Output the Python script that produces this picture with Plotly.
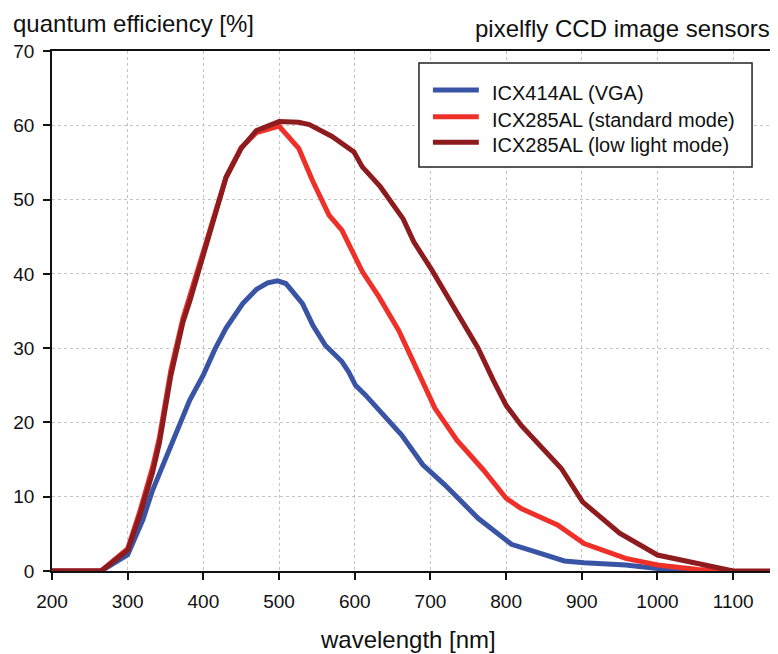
import plotly.graph_objects as go

# ---- data ----
icx414_nm = [200, 250, 265, 300, 320, 333, 351, 365, 382, 400, 415, 430, 452, 470, 485, 498, 509,
             531, 545, 561, 575, 583, 592, 601, 614, 636, 662, 690, 719, 763, 807, 838, 877, 903,
             958, 1000, 1050]
icx414_qe = [0, 0, 0, 2.2, 6.9, 10.9, 15.4, 18.8, 23.0, 26.4, 29.8, 32.7, 36.0, 37.9, 38.8, 39.05, 38.7,
             36.0, 33.0, 30.4, 29.0, 28.2, 26.8, 25.0, 23.7, 21.2, 18.3, 14.3, 11.6, 7.1, 3.6, 2.6, 1.35, 1.1,
             0.8, 0.35, 0]

icx285_std_nm = [200, 265, 300, 316, 333, 342, 357, 373, 382, 408, 430, 450, 470, 500, 526, 544, 566,
                 583, 610, 632, 658, 669, 688, 706, 735, 770, 800, 820, 868, 903, 958, 1000, 1053, 1100]
icx285_std_qe = [0, 0, 3.0, 8.0, 14.0, 18.0, 27.0, 34.0, 37.0, 45.5, 53.0, 57.0, 59.0, 59.9, 56.9, 52.6, 47.9,
                 45.9, 40.3, 36.9, 32.4, 30.0, 25.7, 21.9, 17.6, 13.6, 9.8, 8.4, 6.2, 3.7, 1.7, 0.8, 0.2, 0]

icx285_ll_nm = [200, 265, 300, 316, 333, 342, 357, 373, 382, 408, 430, 450, 470, 500, 526, 540, 570,
                599, 610, 634, 664, 678, 702, 728, 763, 783, 800, 820, 855, 873, 901, 950, 1000, 1053,
                1100, 1150]
icx285_ll_qe = [0, 0, 2.8, 7.5, 13.3, 17.3, 26.3, 33.5, 36.3, 45.5, 53.0, 56.9, 59.3, 60.5, 60.4, 60.1, 58.5,
                56.4, 54.4, 51.7, 47.4, 44.3, 40.5, 36.0, 30.0, 25.7, 22.3, 19.6, 15.8, 13.8, 9.3, 5.1, 2.15, 1.0,
                0, 0]

series_names = ["ICX414AL (VGA)", "ICX285AL (standard mode)", "ICX285AL (low light mode)"]
series_colors = ["#3a54a5", "#ee3029", "#8e1b1e"]

x_ticks = [200, 300, 400, 500, 600, 700, 800, 900, 1000, 1100]
y_ticks = [0, 10, 20, 30, 40, 50, 60, 70]

FONT = "Liberation Sans, Arial, Helvetica, sans-serif"
OFF = 8                      # page body margin offset
W, H = 778 - OFF, 654 - OFF
L, R, T, B = 52 - OFF, 5, 51 - OFF, 83
PW, PH = W - L - R, H - T - B


def px(xp):                  # page pixel x -> paper
    return (xp - OFF - L) / PW


def py(yp):                  # page pixel y -> paper
    return (H - B - (yp - OFF)) / PH


fig = go.Figure()
for xs, ys, name, col in zip([icx414_nm, icx285_std_nm, icx285_ll_nm],
                             [icx414_qe, icx285_std_qe, icx285_ll_qe],
                             series_names, series_colors):
    fig.add_trace(go.Scatter(x=xs, y=ys, mode="lines", name=name,
                             line=dict(color=col, width=5), showlegend=False))

# manual legend (box, sample lines, labels)
shapes = [dict(type="rect", xref="paper", yref="paper", x0=px(420), x1=px(754), y0=py(167), y1=py(63),
               line=dict(color="#222", width=1.5), fillcolor="white", layer="above")]
annotations = []
rows = [90, 116.7, 142.3]
for r, name, col in zip(rows, series_names, series_colors):
    shapes.append(dict(type="line", xref="paper", yref="paper", x0=px(434), x1=px(480), y0=py(r), y1=py(r),
                       line=dict(color=col, width=5), layer="above"))
    annotations.append(dict(xref="paper", yref="paper", x=px(491), y=py(r + 3), xanchor="left",
                            yanchor="middle", text=name, showarrow=False,
                            font=dict(family=FONT, size=20, color="#111")))

annotations += [
    dict(xref="paper", yref="paper", x=px(11), y=py(24), xanchor="left", yanchor="middle",
         text="quantum efficiency [%]", showarrow=False, font=dict(family=FONT, size=24, color="#111")),
    dict(xref="paper", yref="paper", x=px(774), y=py(29), xanchor="right", yanchor="middle",
         text="pixelfly CCD image sensors", showarrow=False, font=dict(family=FONT, size=24, color="#111")),
    dict(xref="paper", yref="paper", x=px(409), y=py(639), xanchor="center", yanchor="middle",
         text="wavelength [nm]", showarrow=False, font=dict(family=FONT, size=24, color="#111")),
]

axis_common = dict(showline=True, linecolor="#111", linewidth=1.5, mirror=True,
                   ticks="outside", ticklen=7, tickwidth=1.5, tickcolor="#111",
                   showgrid=True, gridcolor="#c4c4c4", gridwidth=1, griddash="dot",
                   zeroline=False, tickfont=dict(family=FONT, size=19, color="#111"))

fig.update_layout(
    width=W, height=H,
    margin=dict(l=L, r=R, t=T, b=B),
    paper_bgcolor="white", plot_bgcolor="white",
    xaxis=dict(range=[200, 1150], tickvals=x_ticks, ticklabelstandoff=5, **axis_common),
    yaxis=dict(range=[0, 70], tickvals=y_ticks, ticklabelstandoff=5, **axis_common),
    shapes=shapes, annotations=annotations,
    showlegend=False,
)

fig.write_html("out.html")
